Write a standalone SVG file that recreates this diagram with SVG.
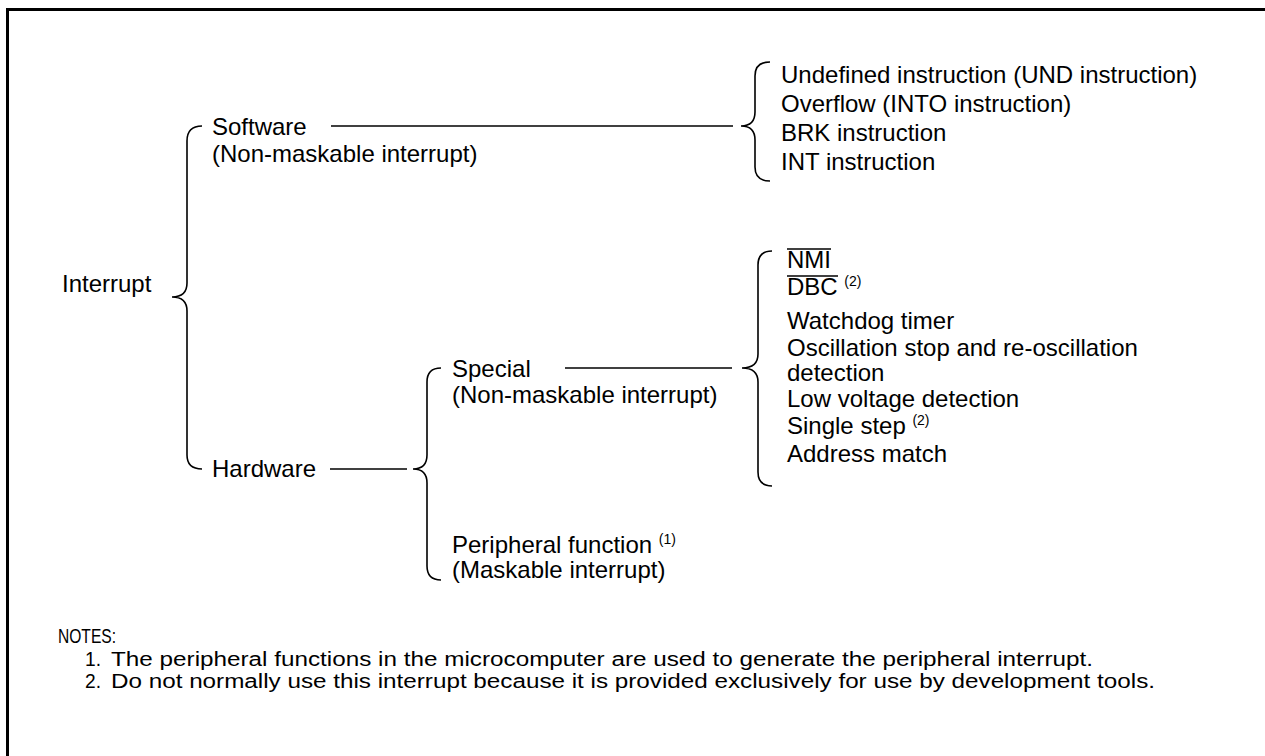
<svg xmlns="http://www.w3.org/2000/svg" width="1265" height="756" viewBox="0 0 1265 756">
<style>
text{font-family:"Liberation Sans",Arial,sans-serif;font-size:24px;fill:#000}
.sup{font-size:14px}
.note{font-size:20px}
.br,.ln{fill:none;stroke:#000;stroke-width:1.6}
.frame{stroke:#000;stroke-width:3;fill:none}
</style>
<rect width="1265" height="756" fill="#fff"/>
<path class="frame" d="M7.5,760 L7.5,9.5 L1270,9.5"/>

<g id="interrupt"><text x="62" y="292">Interrupt</text></g>
<g id="brace-interrupt"><path class="br" d="M202,126 Q187,126 187,141 L187,283 Q187,297 172,297 Q187,297 187,311 L187,455 Q187,469 202,469"/></g>

<g id="software">
<text x="212" y="135">Software</text>
<text x="212" y="162">(Non-maskable interrupt)</text>
</g>

<g id="hardware"><text x="212" y="477">Hardware</text></g>
<g id="brace-hardware"><path class="br" d="M441,368 Q427,368 427,382 L427,455 Q427,469 413,469 Q427,469 427,483 L427,566 Q427,580 441,580"/></g>

<g id="special">
<text x="452" y="377">Special</text>
<text x="452" y="403">(Non-maskable interrupt)</text>
</g>

<g id="peripheral">
<text x="452" y="553">Peripheral function <tspan class="sup" dy="-9">(1)</tspan></text>
<text x="452" y="578">(Maskable interrupt)</text>
</g>

<g id="brace-software"><path class="br" d="M770,62 Q755,62 755,76 L755,112 Q755,126 741,126 Q755,126 755,140 L755,167 Q755,181 770,181"/></g>
<g id="software-items">
<text x="781" y="83">Undefined instruction (UND instruction)</text>
<text x="781" y="112">Overflow (INTO instruction)</text>
<text x="781" y="141">BRK instruction</text>
<text x="781" y="170">INT instruction</text>
</g>

<g id="brace-special"><path class="br" d="M772,251 Q758,251 758,265 L758,354 Q758,368 742,368 Q758,368 758,382 L758,472 Q758,486 772,486"/></g>
<g id="special-items">
<text x="787" y="268">NMI</text>
<line class="ln" x1="787" y1="249" x2="831" y2="249"/>
<text x="787" y="295">DBC <tspan class="sup" dy="-9">(2)</tspan></text>
<line class="ln" x1="787" y1="276" x2="838" y2="276"/>
<text x="787" y="329">Watchdog timer</text>
<text x="787" y="356">Oscillation stop and re-oscillation</text>
<text x="787" y="381">detection</text>
<text x="787" y="407">Low voltage detection</text>
<text x="787" y="434">Single step <tspan class="sup" dy="-9">(2)</tspan></text>
<text x="787" y="462">Address match</text>
</g>

<g id="connectors">
<line class="ln" x1="331" y1="126" x2="733" y2="126"/>
<line class="ln" x1="330" y1="469" x2="407" y2="469"/>
<line class="ln" x1="565" y1="368" x2="732" y2="368"/>
</g>

<g id="notes">
<text class="note" x="58" y="643" textLength="58" lengthAdjust="spacingAndGlyphs">NOTES:</text>
<text class="note" x="85" y="665.5" textLength="16" lengthAdjust="spacingAndGlyphs">1.</text>
<text class="note" x="111" y="665.5" textLength="982" lengthAdjust="spacingAndGlyphs">The peripheral functions in the microcomputer are used to generate the peripheral interrupt.</text>
<text class="note" x="85" y="688" textLength="16" lengthAdjust="spacingAndGlyphs">2.</text>
<text class="note" x="111" y="688" textLength="1044" lengthAdjust="spacingAndGlyphs">Do not normally use this interrupt because it is provided exclusively for use by development tools.</text>
</g>
</svg>
